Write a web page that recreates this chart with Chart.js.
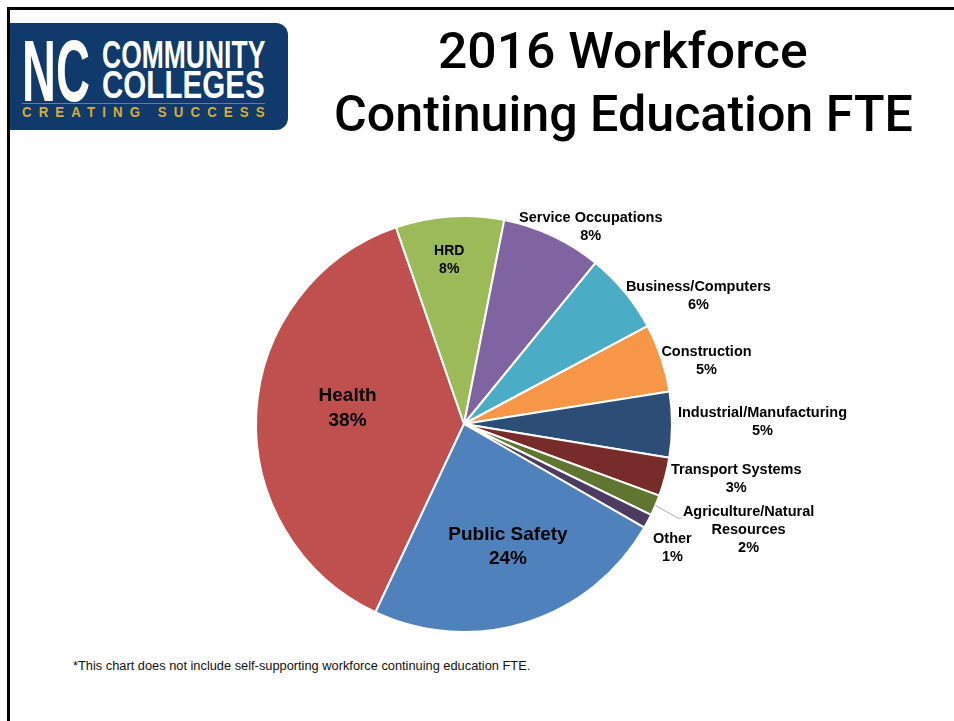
<!DOCTYPE html>
<html>
<head>
<meta charset="utf-8">
<script src="https://cdn.jsdelivr.net/npm/chart.js@4/dist/chart.umd.min.js"></script>
<style>
html,body{margin:0;padding:0;background:#fff;}
body{width:954px;height:721px;position:relative;overflow:hidden;font-family:"Liberation Sans",Arial,sans-serif;}
.bt{position:absolute;left:7px;top:7px;width:947px;height:3px;background:#000;}
.bl{position:absolute;left:7px;top:7px;width:3px;height:714px;background:#000;}
.logo{position:absolute;left:10px;top:23px;width:278px;height:107px;background:#0f3a6b;border-radius:0 12px 12px 0;}
.fit{position:absolute;white-space:nowrap;transform-origin:0 0;line-height:1;display:inline-block;}
.lw{color:#fff;font-weight:bold;}
.gold{color:#d9ac35;font-weight:bold;}
.gline{position:absolute;left:22px;top:103px;width:243px;height:1px;background:#8a7a45;}
.title{color:#000;font-family:Roboto,"Liberation Sans",Arial,sans-serif;font-weight:500;font-size:50px;}
.note{color:#111;font-size:12px;}
#chartBox{position:absolute;left:0;top:150px;width:954px;height:540px;}
</style>
</head>
<body>
<div class="bt"></div>
<div class="bl"></div>
<div class="logo"></div>
<span class="fit lw" style="font-size:87px;top:26.7px;" data-x="22" data-w="68">NC</span>
<span class="fit lw" style="font-size:39px;top:34.9px;" data-x="102" data-w="163">COMMUNITY</span>
<span class="fit lw" style="font-size:39px;top:64.9px;" data-x="102" data-w="163">COLLEGES</span>
<div class="gline"></div>
<span class="fit gold" style="font-size:14px;top:105.2px;letter-spacing:7.5px;" data-x="22" data-w="250">CREATING SUCCESS</span>
<span class="fit title" style="top:25.5px;" data-cx="623" data-w="370">2016 Workforce</span>
<span class="fit title" style="top:88.5px;" data-cx="623" data-w="579">Continuing Education FTE</span>
<span class="fit note" style="top:659.5px;" data-x="73" data-w="457">*This chart does not include self-supporting workforce continuing education FTE.</span>
<div id="chartBox"><canvas id="c"></canvas></div>
<script>
// ---- data ----
const categories = ["Health","HRD","Service Occupations","Business/Computers","Construction","Industrial/Manufacturing","Transport Systems","Agriculture/Natural Resources","Other","Public Safety"];
const shares = [37.7, 8.4, 7.8, 6.3, 5.3, 5.1, 3.0, 1.6, 1.1, 23.7];
const sliceColors = ["#C0504D","#9BBB59","#8064A2","#4BACC6","#F79646","#2C4D75","#772C2A","#5F7530","#4D3B62","#4F81BD"];

// ---- label layout (style only) ----
const labelLayout = [
  {k:0.565, da:4.7,  size:19,   lh:25},
  {k:0.79,  da:-1.2, size:14,   lh:18},
  {k:1.125, da:7.6,  size:14.5, lh:18},
  {k:1.285, da:10.7, size:14.5, lh:18},
  {k:1.205, da:3.9,  size:14.5, lh:18},
  {k:1.435, da:-0.6, size:14.5, lh:18},
  {k:1.335, da:-3.4, size:14.5, lh:18},
  {k:1.46,  da:-2.6, size:14.5, lh:18, leader:true},
  {k:1.165, da:2.8,  size:14.5, lh:18},
  {k:0.625, da:-2.3, size:19,   lh:24}
];
const wrapWidth = 155;

// fit html texts
document.querySelectorAll('.fit').forEach(el=>{
  const w = el.offsetWidth;
  const target = parseFloat(el.dataset.w);
  const s = target / w;
  el.style.transform = 'scaleX(' + s + ')';
  if (el.dataset.cx) el.style.left = (parseFloat(el.dataset.cx) - target/2) + 'px';
  else el.style.left = el.dataset.x + 'px';
});

function wrap(ctx, text, maxW){
  const words = text.split(' ');
  const lines = [];
  let cur = '';
  words.forEach(w=>{
    const t = cur ? cur + ' ' + w : w;
    if (cur && ctx.measureText(t).width > maxW) { lines.push(cur); cur = w; }
    else cur = t;
  });
  if (cur) lines.push(cur);
  return lines;
}

const labelPlugin = {
  id:'sliceLabels',
  afterDatasetsDraw(chart){
    const ctx = chart.ctx;
    const meta = chart.getDatasetMeta(0);
    const total = shares.reduce((a,b)=>a+b,0);
    meta.data.forEach((arc,i)=>{
      const p = arc.getProps(['x','y','startAngle','endAngle','outerRadius'], true);
      const L = labelLayout[i];
      const mid = (p.startAngle + p.endAngle)/2;
      const a = mid + L.da*Math.PI/180;
      const px = p.x + Math.cos(a)*p.outerRadius*L.k;
      const py = p.y + Math.sin(a)*p.outerRadius*L.k;
      ctx.save();
      ctx.font = 'bold ' + L.size + 'px "Liberation Sans", Arial, sans-serif';
      ctx.fillStyle = '#000';
      ctx.textAlign = 'center';
      ctx.textBaseline = 'middle';
      const lines = wrap(ctx, categories[i], wrapWidth);
      lines.push(Math.round(shares[i]/total*100) + '%');
      const n = lines.length;
      if (L.leader) {
        const w1 = ctx.measureText(lines[0]).width;
        const ex = p.x + Math.cos(mid)*p.outerRadius;
        const ey = p.y + Math.sin(mid)*p.outerRadius;
        const tx = px - w1/2 - 1;
        const ty = py - L.lh/2 - 3;
        ctx.strokeStyle = '#a6a6a6';
        ctx.lineWidth = 1;
        ctx.beginPath();
        ctx.moveTo(ex, ey);
        ctx.lineTo(tx - 4, ty);
        ctx.lineTo(tx, ty);
        ctx.stroke();
      }
      lines.forEach((ln,j)=>{
        ctx.fillText(ln, px, py + (j - (n-1)/2)*L.lh);
      });
      ctx.restore();
    });
  }
};

new Chart(document.getElementById('c'), {
  type:'pie',
  data:{
    labels: categories,
    datasets:[{
      data: shares,
      backgroundColor: sliceColors,
      borderColor:'#ffffff',
      borderWidth:2
    }]
  },
  options:{
    responsive:true,
    maintainAspectRatio:false,
    animation:false,
    events:[],
    rotation:205.2,
    layout:{padding:{left:255,right:281,top:65,bottom:57}},
    plugins:{legend:{display:false},tooltip:{enabled:false},title:{display:false}}
  },
  plugins:[labelPlugin]
});
</script>
</body>
</html>
